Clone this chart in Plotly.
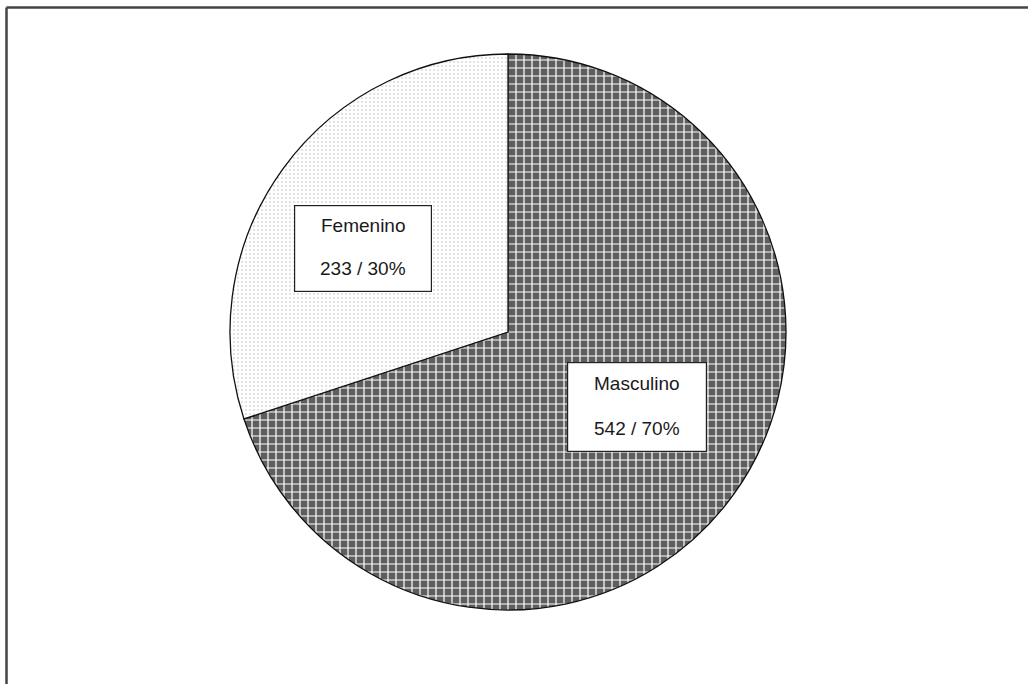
import plotly.graph_objects as go

labels = ["Masculino", "Femenino"]
values = [542, 233]
pattern_shapes = ["+", "."]
pattern_fg = ["white", "#b4b4b4"]
pattern_bg = ["#5e5e5e", "white"]

W, H = 1028, 684
total = sum(values)
pcts = [round(v * 100 / total) for v in values]

cx, cy, r = 508, 332, 278

fig = go.Figure(go.Pie(
    labels=labels,
    values=values,
    sort=False,
    direction="clockwise",
    rotation=0,
    textinfo="none",
    hoverinfo="label+value+percent",
    showlegend=False,
    marker=dict(
        colors=["#5e5e5e", "white"],
        line=dict(color="#111111", width=1.3),
        pattern=dict(shape=pattern_shapes, fgcolor=pattern_fg, bgcolor=pattern_bg,
                     size=[8, 4], solidity=[0.28, 0.1], fillmode="replace"),
    ),
    domain=dict(x=[(cx - r) / W, (cx + r) / W], y=[1 - (cy + r) / H, 1 - (cy - r) / H]),
))

# label boxes: (center x, center y, width, height, name line y, value line y) in px
boxes = [(637, 407, 140, 90, 383, 428), (363, 248, 138, 87, 225, 268)]
font = dict(family="Liberation Sans, Arial, sans-serif", size=19, color="#1a1a1a")
annotations = []
for lab, val, pct, (bx, by, bw, bh, y1, y2) in zip(labels, values, pcts, boxes):
    annotations.append(dict(
        x=bx / W, y=1 - by / H, xref="paper", yref="paper", text="",
        xanchor="center", yanchor="middle",
        showarrow=False, bgcolor="white", bordercolor="#222222", borderwidth=1.2,
        width=bw - 2, height=bh - 2, borderpad=0,
    ))
    annotations.append(dict(x=bx / W, y=1 - y1 / H, xref="paper", yref="paper",
                            xanchor="center", yanchor="middle",
                            text=lab, showarrow=False, font=font))
    annotations.append(dict(x=bx / W, y=1 - y2 / H, xref="paper", yref="paper",
                            xanchor="center", yanchor="middle",
                            text=f"{val} / {pct}%", showarrow=False, font=font))

shapes = [
    dict(type="line", xref="paper", yref="paper", x0=6.5 / W, x1=1, y0=1 - 7.5 / H, y1=1 - 7.5 / H,
         line=dict(color="#444444", width=2.5)),
    dict(type="line", xref="paper", yref="paper", x0=6.5 / W, x1=6.5 / W, y0=0, y1=1 - 7.5 / H,
         line=dict(color="#444444", width=2.5)),
]

fig.update_layout(
    width=W, height=H,
    margin=dict(l=0, r=0, t=0, b=0),
    paper_bgcolor="white", plot_bgcolor="white",
    annotations=annotations, shapes=shapes,
)

fig.write_html("out.html", config={"displayModeBar": False},
               post_script="document.body.style.margin='0';document.body.style.overflow='hidden';")
